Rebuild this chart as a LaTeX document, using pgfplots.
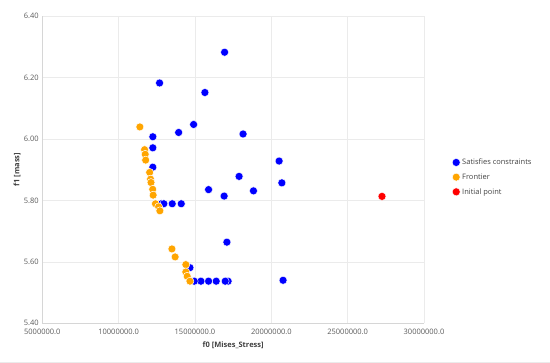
\documentclass[border=0pt]{standalone}
\usepackage{pgfplots}
\pgfplotsset{compat=1.18}
\usepackage{fontspec}
\setmainfont{Open Sans}
\definecolor{gridc}{HTML}{EBEBEB}
\definecolor{axc}{HTML}{D6D6D6}
\definecolor{tickc}{HTML}{595959}
\definecolor{labc}{HTML}{404040}
\definecolor{cblue}{HTML}{0000FF}
\definecolor{corange}{HTML}{FFA500}
\definecolor{cred}{HTML}{FF0000}
\begin{document}
\begin{tikzpicture}[x=1pt,y=1pt]
\useasboundingbox (0,0) rectangle (550,363);
\draw[gridc] (0,1) -- (550,1);
\begin{axis}[
  at={(42.3pt,39.7pt)}, anchor=south west,
  scale only axis, width=381.7pt, height=307.3pt,
  xmin=5000000, xmax=30000000, ymin=5.4, ymax=6.4,
  scaled x ticks=false, scaled y ticks=false,
  xtick={5000000,10000000,15000000,20000000,25000000,30000000},
  xticklabels={5000000.0,10000000.0,15000000.0,20000000.0,25000000.0,30000000.0},
  ytick={5.4,5.6,5.8,6.0,6.2,6.4},
  yticklabels={5.40,5.60,5.80,6.00,6.20,6.40},
  major tick length=0pt,
  axis x line*=bottom, axis y line*=left,
  axis line style={draw=axc, -},
  grid=major, grid style={draw=gridc, line width=0.6pt},
  tick label style={font=\fontsize{7.5}{9}\selectfont, text=tickc},
  xticklabel style={yshift=-2pt},
  xlabel={\textbf{f0 [Mises\_Stress]}},
  ylabel={\textbf{f1 [mass]}},
  label style={font=\fontsize{7.5}{9}\selectfont, text=labc},
  xlabel style={at={(axis description cs:0.5,-0.0706)}, anchor=center},
  ylabel style={at={(axis description cs:-0.0663,0.5)}, anchor=center},
  legend style={at={(axis description cs:1.0734,0.548)}, anchor=north west,
    draw=none, fill=none, inner sep=0pt, font=\fontsize{7.5}{9}\selectfont, text=labc,
    nodes={text height=6pt, text depth=1.5pt, inner ysep=3.6pt}},
  legend cell align=left,
  legend image code/.code={\draw[mark repeat=2,mark phase=2,#1] plot coordinates {(0pt,0pt)(4pt,0pt)(8pt,0pt)};},
]
\addplot[only marks, mark=*, mark size=4pt, mark options={fill=cblue, draw=white, line width=0.4pt}] coordinates {
(16940000,6.282) (12680000,6.182) (15650000,6.151) (14910000,6.047)
(13930000,6.021) (12240000,6.007) (18150000,6.016) (12240000,5.971)
(12240000,5.908) (17890000,5.878) (20510000,5.928) (20690000,5.857)
(15890000,5.835) (16910000,5.814) (18830000,5.831) (12800000,5.789)
(12960000,5.789) (13510000,5.789) (14100000,5.789) (17090000,5.664)
(20770000,5.540) (14670000,5.581) (17170000,5.537) (16980000,5.537)
(16390000,5.537) (15890000,5.537) (15390000,5.537) (14950000,5.537)
};
\addlegendentry{Satisfies constraints}
\addplot[only marks, mark=*, mark size=4pt, mark options={fill=corange, draw=white, line width=0.5pt}] coordinates {
(11390000,6.039) (11700000,5.965) (11740000,5.950) (11770000,5.931)
(12030000,5.891) (12090000,5.869) (12120000,5.858) (12230000,5.836)
(12260000,5.817) (12410000,5.789) (12620000,5.779) (12700000,5.766)
(13490000,5.642) (13700000,5.616) (14400000,5.591) (14400000,5.567)
(14490000,5.553) (14670000,5.537)
};
\addlegendentry{Frontier}
\addplot[only marks, mark=*, mark size=4pt, mark options={fill=cred, draw=white, line width=0.4pt}] coordinates {
(27250000,5.813)
};
\addlegendentry{Initial point}
\end{axis}
\end{tikzpicture}
\end{document}
